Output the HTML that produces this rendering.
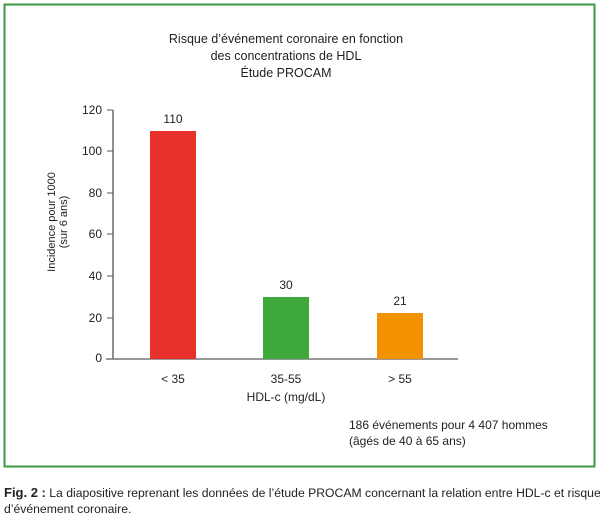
<!DOCTYPE html>
<html><head><meta charset="utf-8"><style>
body{margin:0;background:#fff;}
svg{display:block;font-family:"Liberation Sans",sans-serif;}
</style></head><body>
<svg width="600" height="520" viewBox="0 0 600 520">
<rect x="4.5" y="4.5" width="590" height="462" fill="#fff" stroke="#3e9a46" stroke-width="2"/>
<g font-size="12.5" fill="#222" text-anchor="middle">
<text x="286" y="43">Risque d’événement coronaire en fonction</text>
<text x="286" y="60">des concentrations de HDL</text>
<text x="286" y="77">Étude PROCAM</text>
</g>
<line x1="113" y1="110" x2="113" y2="359" stroke="#555" stroke-width="1.3"/>
<line x1="106" y1="359" x2="458" y2="359" stroke="#777" stroke-width="1.5"/>
<g stroke="#555" stroke-width="1">
<line x1="107" y1="110" x2="113" y2="110"/><line x1="107" y1="151" x2="113" y2="151"/>
<line x1="107" y1="193" x2="113" y2="193"/><line x1="107" y1="234" x2="113" y2="234"/>
<line x1="107" y1="276" x2="113" y2="276"/><line x1="107" y1="318" x2="113" y2="318"/>
</g>
<g font-size="12" fill="#222" text-anchor="end">
<text x="102" y="114">120</text><text x="102" y="155">100</text><text x="102" y="197">80</text>
<text x="102" y="238">60</text><text x="102" y="280">40</text><text x="102" y="322">20</text>
<text x="102" y="362">0</text>
</g>
<rect x="150" y="131" width="46" height="228" fill="#e8312a"/>
<rect x="263" y="297" width="46" height="62" fill="#3fa83a"/>
<rect x="377" y="313" width="46" height="46" fill="#f39200"/>
<g font-size="12" fill="#222" text-anchor="middle">
<text x="173" y="123">110</text><text x="286" y="289">30</text><text x="400" y="305">21</text>
<text x="173" y="383">&lt; 35</text><text x="286" y="383">35-55</text><text x="400" y="383">&gt; 55</text>
<text x="286" y="401">HDL-c (mg/dL)</text>
</g>
<g font-size="11" fill="#222" text-anchor="middle" transform="translate(55,222) rotate(-90)">
<text x="0" y="0">Incidence pour 1000</text>
<text x="0" y="12">(sur 6 ans)</text>
</g>
<g font-size="12" fill="#222">
<text x="349" y="429">186 événements pour 4 407 hommes</text>
<text x="349" y="445">(âgés de 40 à 65 ans)</text>
</g>
<g font-size="12.2" fill="#222">
<text x="4" y="497"><tspan font-weight="bold" font-size="13">Fig. 2 :</tspan> La diapositive reprenant les données de l’étude PROCAM concernant la relation entre HDL-c et risque</text>
<text x="4" y="513">d’événement coronaire.</text>
</g>
</svg>
</body></html>
